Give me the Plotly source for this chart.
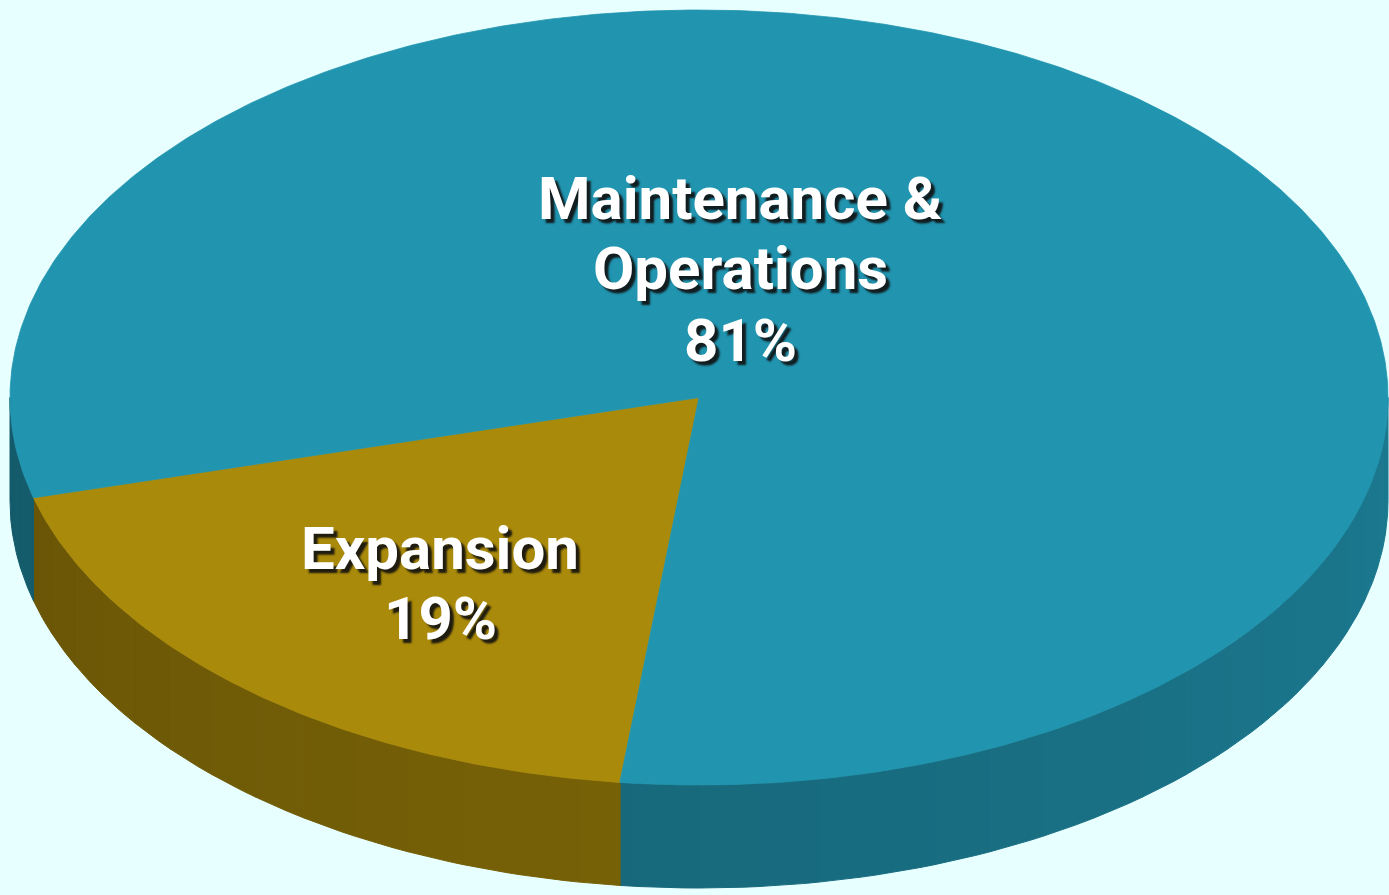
import numpy as np
import plotly.graph_objects as go

# ---- data ----
categories = ["Expansion", "Maintenance & Operations"]
values = [19, 81]
label_lines = [["Expansion"], ["Maintenance &", "Operations"]]
top_colors = [(170, 138, 10), (33, 148, 175)]

# ---- geometry / style ----
W, H = 1389, 895
CX, CY, A, B, D = 699, 397.5, 689, 387.5, 103
START = 96.6           # degrees, clockwise from the right on screen
BG = "#E8FFFF"
FONT = "Roboto, Liberation Sans, Arial, sans-serif"
FSIZE = 60
label_pos = [(440, [548, 618]), (740, [198.5, 268, 340])]

fracs = np.array(values, dtype=float) / sum(values)
edges = START + 360.0 * np.concatenate([[0.0], np.cumsum(fracs)])


def arc(t0, t1, dy=0.0, n=None):
    if n is None:
        n = max(4, int(abs(t1 - t0) * 2))
    t = np.radians(np.linspace(t0, t1, n))
    return CX + A * np.cos(t), CY + B * np.sin(t) + dy


def slice_of(tdeg):
    m = tdeg
    while m < edges[0]:
        m += 360
    while m >= edges[0] + 360:
        m -= 360
    for i in range(len(values)):
        if edges[i] <= m < edges[i + 1]:
            return i
    return len(values) - 1


def rgb(c, f=1.0):
    return "rgb(%d,%d,%d)" % tuple(int(round(v * f)) for v in c)


fig = go.Figure()

# ---- side wall (front half: 0..180 deg), banded shading ----
cuts = set(np.arange(0, 181, 5.0).tolist())
for e in edges:
    for k in (-360, 0, 360):
        if 0 < e + k < 180:
            cuts.add(float(e + k))
cuts = sorted(cuts)
for s, e in zip(cuts[:-1], cuts[1:]):
    mid = 0.5 * (s + e)
    i = slice_of(mid)
    f = 0.82 - 0.0012 * mid
    col = rgb(top_colors[i], f)
    xt, yt = arc(s, e, 0.0, 12)
    xb, yb = arc(e, s, D, 12)
    fig.add_trace(go.Scatter(
        x=np.concatenate([xt, xb, xt[:1]]), y=np.concatenate([yt, yb, yt[:1]]),
        mode="lines", fill="toself", fillcolor=col,
        line=dict(color=col, width=1), hoverinfo="skip", showlegend=False))

# ---- top faces ----
for i, cat in enumerate(categories):
    xa, ya = arc(edges[i], edges[i + 1])
    xs = np.concatenate([[CX], xa, [CX]])
    ys = np.concatenate([[CY], ya, [CY]])
    col = rgb(top_colors[i])
    fig.add_trace(go.Scatter(
        x=xs, y=ys, mode="lines", fill="toself", fillcolor=col,
        line=dict(color=col, width=0.8), name=cat, hoverinfo="skip",
        showlegend=False))

# ---- labels with drop shadow ----
annotations = []
for i, cat in enumerate(categories):
    lines = label_lines[i] + ["%d%%" % values[i]]
    x0, ys = label_pos[i]
    for txt, yy in zip(lines, ys):
        annotations.append(dict(
            x=x0, y=yy, xref="x", yref="y", text="<b>%s</b>" % txt,
            showarrow=False, xanchor="center", yanchor="middle",
            font=dict(family=FONT, size=FSIZE, color="white",
                      shadow="4px 4px 2px rgba(15,15,15,0.9)")))

fig.update_layout(
    width=W, height=H, margin=dict(l=0, r=0, t=0, b=0),
    paper_bgcolor=BG, plot_bgcolor=BG, showlegend=False,
    xaxis=dict(range=[0, W], visible=False, fixedrange=True),
    yaxis=dict(range=[H, 0], visible=False, fixedrange=True),
    annotations=annotations)

fig.write_html("out.html", config={"displayModeBar": False},
               post_script="document.body.style.margin='0';document.body.style.overflow='hidden';")
